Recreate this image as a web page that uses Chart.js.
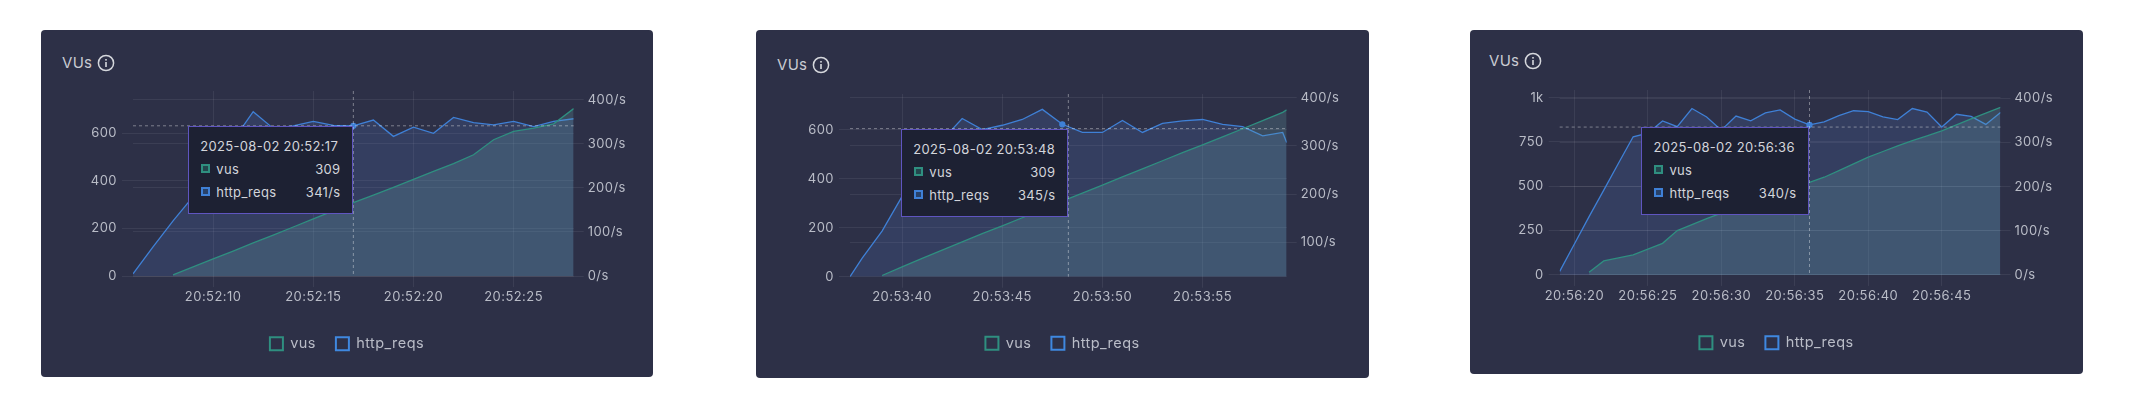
<!DOCTYPE html>
<html>
<head>
<meta charset="utf-8">
<title>VUs</title>
<script src="https://cdn.jsdelivr.net/npm/chart.js@4/dist/chart.umd.min.js"></script>
<style>
html, body { margin: 0; background: #fff; width: 2130px; height: 412px; overflow: hidden; font-family: Inter, sans-serif; }
.panel { position: absolute; background: #2d3047; border-radius: 4px; }
.panel canvas { position: absolute; left: 0; top: 0; }
.title { position: absolute; color: #c9cbd2; font-size: 15px; line-height: 18px; letter-spacing: .3px; display: flex; align-items: center; gap: 5px; }
.tip { position: absolute; box-sizing: border-box; height: 88px; background: #1d2133; border: 1px solid #5f55c0; color: #d3d5db; font-size: 13px; }
.tip div { position: absolute; white-space: nowrap; line-height: 16px; letter-spacing: .3px; }
.tip i { position: absolute; width: 9px; height: 9px; box-sizing: border-box; border: 2px solid; }
</style>
</head>
<body>
<script>
// panel 1 - 20:52
const secs1 = [6,7,8,9,10,11,12,13,14,15,16,17,18,19,20,21,22,23,24,25,26,27,28];
const vus1 = [null,null,5,38,72,105,139,172,206,240,274,309,340,373,406,440,473,510,573,608,622,640,704];
const reqs1 = [5,66,125,180,240,308,373,335,341,351,342,341,354,317,338,324,360,348,343,351,339,351,357];
const xTicks1 = [10,15,20,25];
const leftTicks1 = [0,200,400,600];
const rightTicks1 = [0,100,200,300,400];

// panel 2 - 20:53
const secs2 = [37.4,38,39,40,41,42,43,44,45,46,47,48,49,50,51,52,53,54,55,56,57,58,59,59.2];
const vus2 = [null,null,5,40,75,109,142,176,208,241,275,309,342,374,408,441,474,507,539,572,605,638,672,682];
const reqs2 = [28,66,123,195,250,312,357,334,343,355,376,345,328,328,353,328,347,352,355,345,340,321,328,307];
const xTicks2 = [40,45,50,55];
const leftTicks2 = [0,200,400,600];
const rightTicks2 = [100,200,300,400];

// panel 3 - 20:56
const secs3 = [19,20,21,22,23,24,25,26,27,28,29,30,31,32,33,34,35,36,37,38,39,40,41,42,43,44,45,46,47,48,49];
const vus3 = [null,null,15,79,96,113,145,178,250,284,318,348,380,410,440,470,497,522,551,588,626,664,696,728,757,784,812,846,880,912,945];
const reqs3 = [8,70,132,192,253,313,321,349,336,377,358,328,360,349,367,374,353,340,347,361,372,370,358,352,377,369,335,364,359,341,368];
const xTicks3 = [20,25,30,35,40,45];
const leftTicks3 = [0,250,500,750,1000];
const rightTicks3 = [0,100,200,300,400];

const GREEN = '#2f8f80';
const BLUE = '#3f80d6';
const TEXT = '#b9bcc7';
const GRID = 'rgba(255,255,255,0.07)';
const FONT = { family: 'Inter', size: 13 };

const pad = n => String(n).padStart(2, '0');
const fixTicks = vals => s => { s.ticks = vals.map(v => ({ value: v })); };

const crosshair = {
    id: 'crosshair',
    // canvas text in the reference is a bit more spread out than plain Inter
    beforeLayout(chart) { chart.ctx.letterSpacing = '0.45px'; },
    beforeDraw(chart) { chart.ctx.letterSpacing = '0.45px'; },
    afterDatasetsDraw(chart, args, opts) {
        const { ctx, chartArea: a, scales } = chart;
        const x = scales.x.getPixelForValue(opts.x);
        const y = scales.y1.getPixelForValue(opts.y);
        ctx.save();
        ctx.strokeStyle = 'rgba(255,255,255,0.38)';
        ctx.setLineDash([3, 3]);
        ctx.lineWidth = 1;
        ctx.beginPath();
        ctx.moveTo(x, a.top);
        ctx.lineTo(x, a.bottom);
        ctx.moveTo(a.left, y);
        ctx.lineTo(a.right, y);
        ctx.stroke();
        ctx.restore();
        // tooltip hangs off the crosshair
        const tip = opts.el;
        tip.style.left = (x - tip.offsetWidth) + 'px';
        tip.style.top = y + 'px';
    }
};

function addTooltip(panel, tip) {
    const el = document.createElement('div');
    el.className = 'tip';
    el.style.width = tip.width + 'px';
    const rows = [['vus', tip.vus, GREEN, 42], ['http_reqs', tip.reqs, BLUE, 65]];
    let html = `<div style="top:11px;left:11px">${tip.time}</div>`;
    for (const [name, val, color, top] of rows) {
        html += `<i style="left:12px;top:${top - 5}px;border-color:${color};background:${color}55"></i>`;
        html += `<div style="left:27px;top:${top - 8}px">${name}</div>`;
        html += `<div style="right:12px;top:${top - 8}px">${val}</div>`;
    }
    el.innerHTML = html;
    panel.appendChild(el);
    return el;
}

function drawPanel(cfg) {
    const panel = document.createElement('div');
    panel.className = 'panel';
    panel.style.cssText = `left:${cfg.box.x}px;top:${cfg.box.y}px;width:${cfg.box.w}px;height:${cfg.box.h}px`;
    panel.innerHTML = `<div class="title" style="left:${cfg.titleX}px;top:${cfg.titleY}px">VUs
        <svg width="18" height="18" viewBox="0 0 18 18"><circle cx="9" cy="9" r="7.6" fill="none" stroke="#d5d7dc" stroke-width="1.5"/><rect x="8.2" y="8" width="1.6" height="5" fill="#d5d7dc"/><rect x="8.2" y="5" width="1.6" height="1.6" fill="#d5d7dc"/></svg></div>`;
    const canvas = document.createElement('canvas');
    canvas.width = cfg.box.w;
    canvas.height = cfg.box.h;
    panel.appendChild(canvas);
    document.body.appendChild(panel);
    const tipEl = addTooltip(panel, cfg.tip);

    const points = vals => cfg.secs.map((s, i) => ({ x: s, y: vals[i] }));

    new Chart(canvas, {
        type: 'line',
        data: {
            datasets: [
                {
                    label: 'vus',
                    data: points(cfg.vus),
                    yAxisID: 'y',
                    borderColor: GREEN,
                    backgroundColor: 'rgba(105,168,171,0.23)',
                    borderWidth: 1.3,
                    fill: 'start',
                    pointRadius: 0,
                    tension: 0
                },
                {
                    label: 'http_reqs',
                    data: points(cfg.reqs),
                    yAxisID: 'y1',
                    borderColor: BLUE,
                    backgroundColor: 'rgba(90,130,210,0.18)',
                    borderWidth: 1.3,
                    fill: 'start',
                    pointRadius: c => c.raw && c.raw.x === cfg.hoverSec ? 2.5 : 0,
                    pointBackgroundColor: BLUE,
                    tension: 0
                }
            ]
        },
        options: {
            responsive: false,
            animation: false,
            layout: { padding: { top: cfg.plot.top, bottom: cfg.bottomPad } },
            scales: {
                x: {
                    type: 'linear',
                    min: cfg.secs[0],
                    max: cfg.secs[cfg.secs.length - 1],
                    afterBuildTicks: fixTicks(cfg.xTicks),
                    afterFit: s => { s.height = cfg.xHeight; },
                    grid: { color: GRID, tickColor: GRID, tickLength: 11 },
                    border: { display: false },
                    ticks: { color: TEXT, font: FONT, padding: 2, maxRotation: 0, callback: v => cfg.prefix + pad(v) }
                },
                y: {
                    position: 'left',
                    min: 0,
                    max: cfg.leftMax,
                    afterBuildTicks: fixTicks(cfg.leftTicks),
                    afterFit: s => { s.width = cfg.plot.left; },
                    grid: { color: GRID, tickColor: GRID, tickLength: 11 },
                    border: { display: false },
                    ticks: { color: TEXT, font: FONT, padding: 5, callback: v => v >= 1000 ? (v / 1000) + 'k' : v }
                },
                y1: {
                    position: 'right',
                    min: cfg.rightMin,
                    max: cfg.rightMax,
                    afterBuildTicks: fixTicks(cfg.rightTicks),
                    afterFit: s => { s.width = cfg.plot.right; },
                    grid: { color: GRID, tickColor: GRID, tickLength: 10 },
                    border: { display: false },
                    ticks: { color: TEXT, font: FONT, padding: 4, callback: v => v + '/s' }
                }
            },
            plugins: {
                tooltip: { enabled: false },
                crosshair: { x: cfg.cross[0], y: cfg.cross[1], el: tipEl },
                legend: {
                    position: 'bottom',
                    labels: {
                        color: TEXT,
                        font: { family: 'Inter', size: 14.5 },
                        boxWidth: 13,
                        boxHeight: 13,
                        padding: 20,
                        generateLabels: chart => chart.data.datasets.map((d, i) => ({
                            text: d.label,
                            fillStyle: 'rgba(45,48,71,0.6)',
                            strokeStyle: i === 0 ? GREEN : '#3f88e0',
                            lineWidth: 2,
                            fontColor: TEXT,
                            datasetIndex: i
                        }))
                    }
                }
            }
        },
        plugins: [crosshair]
    });
}

drawPanel({
    box: { x: 41, y: 30, w: 612, h: 347 },
    plot: { left: 92, right: 79.3, top: 61 },
    bottomPad: 16, xHeight: 40.5,
    titleX: 21, titleY: 24,
    secs: secs1, vus: vus1, reqs: reqs1, xTicks: xTicks1, leftTicks: leftTicks1, rightTicks: rightTicks1,
    leftMax: 778, rightMin: 0, rightMax: 420,
    prefix: '20:52:', hoverSec: 17, cross: [17, 341],
    tip: { width: 165, time: '2025-08-02 20:52:17', vus: '309', reqs: '341/s' }
});

drawPanel({
    box: { x: 756, y: 30, w: 613, h: 348 },
    plot: { left: 94, right: 82.3, top: 64 },
    bottomPad: 17.6, xHeight: 39.2,
    titleX: 21, titleY: 26,
    secs: secs2, vus: vus2, reqs: reqs2, xTicks: xTicks2, leftTicks: leftTicks2, rightTicks: rightTicks2,
    leftMax: 747, rightMin: 28, rightMax: 408,
    prefix: '20:53:', hoverSec: 48, cross: [48.3, 336],
    tip: { width: 167, time: '2025-08-02 20:53:48', vus: '309', reqs: '345/s' }
});

drawPanel({
    box: { x: 1470, y: 30, w: 613, h: 344 },
    plot: { left: 89.7, right: 82.5, top: 60 },
    bottomPad: 14, xHeight: 40.6,
    titleX: 19, titleY: 22,
    secs: secs3, vus: vus3, reqs: reqs3, xTicks: xTicks3, leftTicks: leftTicks3, rightTicks: rightTicks3,
    leftMax: 1043, rightMin: 0, rightMax: 419,
    prefix: '20:56:', hoverSec: 36, cross: [36, 335],
    tip: { width: 168, time: '2025-08-02 20:56:36', vus: '', reqs: '340/s' }
});
</script>
</body>
</html>
